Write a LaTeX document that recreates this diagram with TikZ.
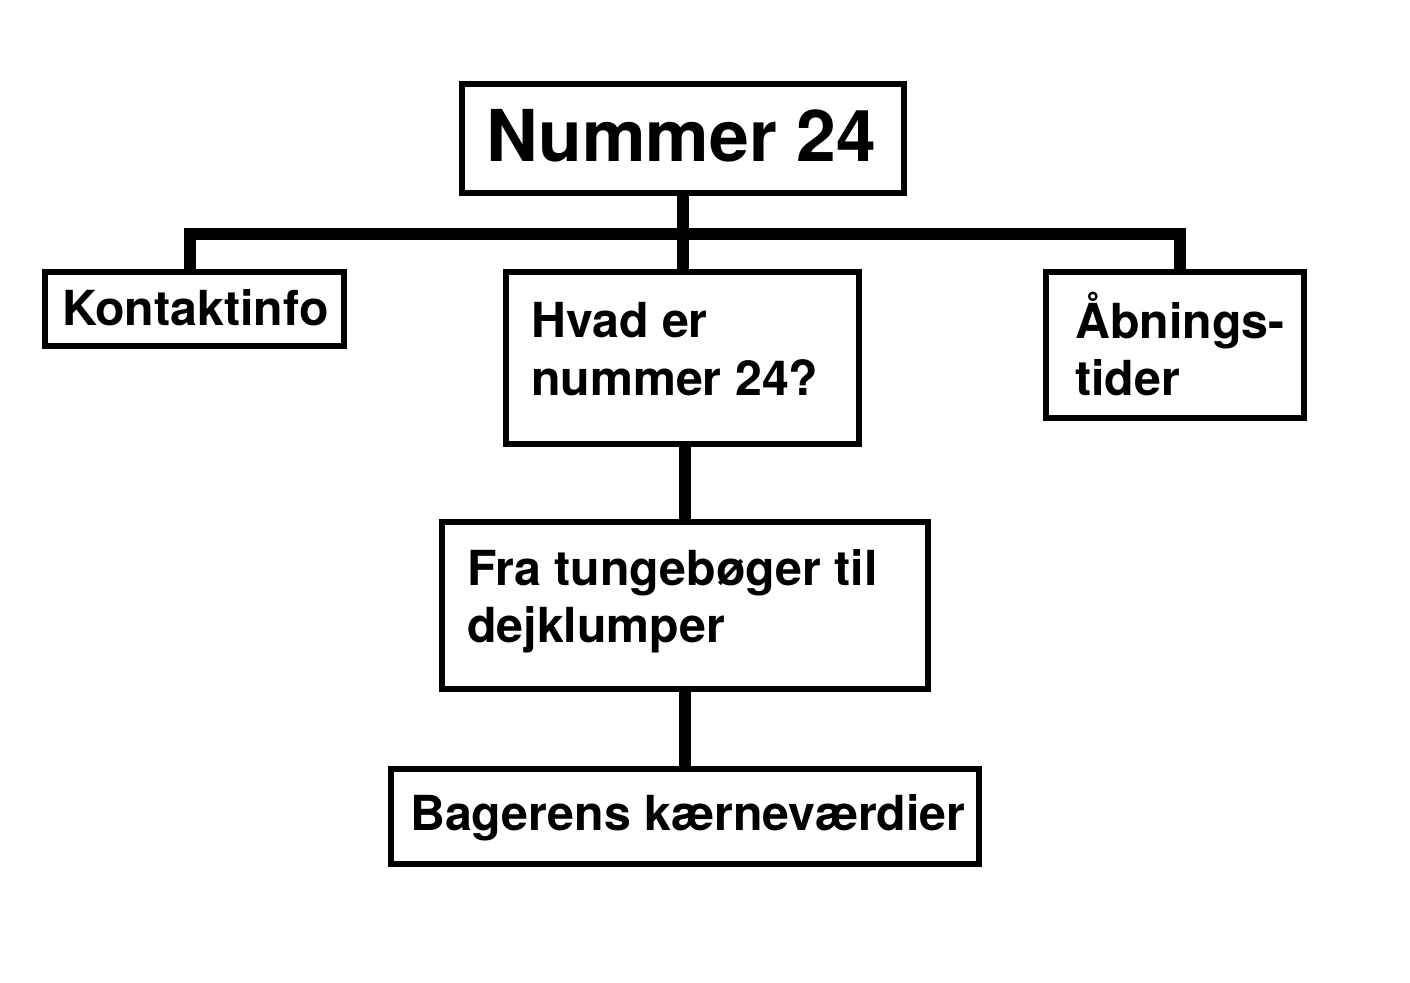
\documentclass[tikz,border=0pt]{standalone}
\usepackage{fontspec}
\setmainfont{TeX Gyre Heros}
\begin{document}
\begin{tikzpicture}[x=1pt,y=-1pt,
  box/.style={draw=black, line width=4pt, fill=white, rectangle, inner sep=0pt},
  txt/.style={anchor=base west, inner sep=0pt, font=\bfseries\fontsize{48.3}{57}\selectfont},
  big/.style={anchor=base west, inner sep=0pt, font=\bfseries\fontsize{71.5}{80}\selectfont},
  conn/.style={line width=12pt, line join=miter, line cap=butt}]
\useasboundingbox (0,0) rectangle (1410,982);
\fill[white] (0,0) rectangle (1410,982);
% boxes
\node[box, minimum width=440pt, minimum height=107pt] (n24) at (683,138.5) {};
\node[box, minimum width=297pt, minimum height=72pt] (kontakt) at (194.5,309) {};
\node[box, minimum width=351pt, minimum height=170pt] (hvad) at (682.5,358) {};
\node[box, minimum width=256pt, minimum height=144pt] (abn) at (1175,345) {};
\node[box, minimum width=484pt, minimum height=165pt] (fra) at (685,605.5) {};
\node[box, minimum width=586pt, minimum height=93pt] (bag) at (685,816.5) {};
% connectors
\coordinate (barL) at (190,234);
\coordinate (barR) at (1180,234);
\draw[conn] (barL |- kontakt.north) -- (barL) -- (barR) -- (barR |- abn.north);
\draw[conn] (n24.south) -- (n24.south |- barL);
\draw[conn] (n24.south |- barL) -- (n24.south |- hvad.north);
\draw[conn] (hvad.south -| fra.north) -- (fra.north);
\draw[conn] (fra.south) -- (bag.north);
% redraw box borders on top
\draw[line width=4pt] (n24.south west) rectangle (n24.north east);
\draw[line width=4pt] (kontakt.south west) rectangle (kontakt.north east);
\draw[line width=4pt] (hvad.south west) rectangle (hvad.north east);
\draw[line width=4pt] (abn.south west) rectangle (abn.north east);
\draw[line width=4pt] (fra.south west) rectangle (fra.north east);
\draw[line width=4pt] (bag.south west) rectangle (bag.north east);
% texts
\node[big] (t1) at (486,161) {Nummer 24};
\node[txt] (t2) at (62,325) {Kontaktinfo};
\node[txt] (t3) at (531,337) {Hvad er};
\node[txt] (t4) at (531,395) {nummer 24?};
\node[txt] (t5) at (1075,338) {Åbnings-};
\node[txt] (t6) at (1075,395) {tider};
\node[txt] (t7) at (467,585) {Fra tungebøger til};
\node[txt] (t8) at (467,642) {dejklumper};
\node[txt] (t9) at (410,830) {Bagerens kærneværdier};
\end{tikzpicture}
\end{document}
